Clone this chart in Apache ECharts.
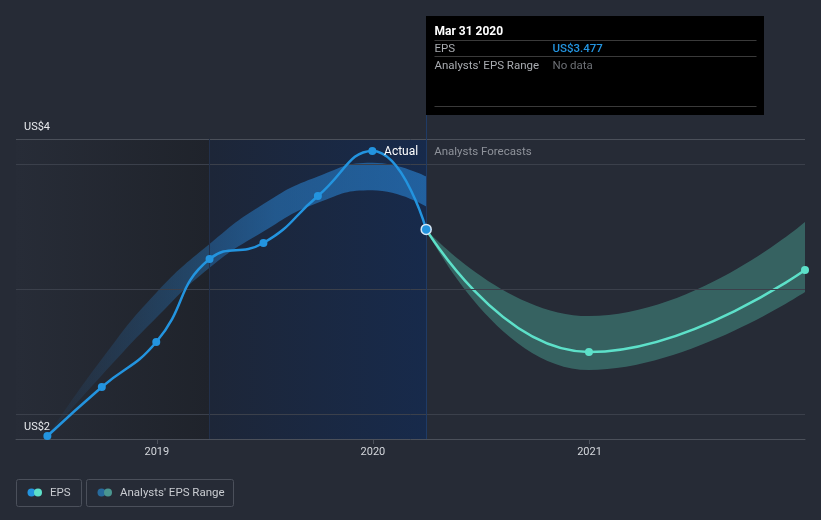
<!DOCTYPE html>
<html><head><meta charset="utf-8">
<script src="https://cdn.jsdelivr.net/npm/echarts@6/dist/echarts.min.js"></script>
<style>html,body{margin:0;padding:0;background:#262b36;}#c{width:821px;height:520px;}</style>
</head><body><div id="c"></div>
<script>
// ---- data ----
const epsDates = ['2018-06-30','2018-09-30','2018-12-31','2019-03-31','2019-06-30','2019-09-30','2019-12-31','2020-03-31'];
const epsValues = [1.824, 2.216, 2.576, 3.24, 3.368, 3.744, 4.104, 3.477];
const pastRangeDates = ['2018-06-30','2018-09-30','2018-12-31','2019-03-31','2019-06-30','2019-09-30','2019-12-31','2020-03-31'];
const pastRangeLow  = [1.824, 2.31, 2.77, 3.17, 3.46, 3.69, 3.79, 3.66];
const pastRangeHigh = [1.824, 2.44, 2.97, 3.36, 3.68, 3.90, 4.01, 3.90];
const fcDates = ['2020-03-31','2020-12-31','2021-12-31'];
const fcValues = [3.477, 2.496, 3.152];
const fcLow  = [3.477, 2.352, 2.976];
const fcHigh = [3.477, 2.784, 3.536];
const gridValues = [2, 3, 4];
const yTickValues = [1.8, 4.2];
const yTickLabels = ['US$2', 'US$4'];
const xTickLabels = ['2019', '2020', '2021'];
const xMin = '2018-05-08', xMax = '2021-12-31';
const yMin = 1.8, yMax = 4.2;
const splitDate = '2019-03-31', nowDate = '2020-03-31';
const tipTitle = 'Mar 31 2020', tipEps = 'US$3.477', tipRange = 'No data';

const FONT = 'Roboto, "Noto Sans", sans-serif';
const FS = '11.5px ';
const chart = echarts.init(document.getElementById('c'), null, {renderer: 'canvas'});
const G = echarts.graphic;

const pair = (ds, vs) => ds.map((d, i) => [d, vs[i]]);
const diff = (ds, lo, hi) => ds.map((d, i) => [d, +(hi[i] - lo[i]).toFixed(4)]);

const epsData = pair(epsDates, epsValues).map((p, i, a) => i === a.length - 1
  ? {value: p, itemStyle: {borderColor: '#d6e8f7', borderWidth: 1.5}, symbolSize: 10} : p);

chart.setOption({
  backgroundColor: '#262b36',
  animation: false,
  grid: {left: 16, right: 16, top: 139, bottom: 81},
  xAxis: {
    type: 'time', min: xMin, max: xMax,
    minInterval: 365 * 86400000, maxInterval: 366 * 86400000,
    axisLine: {lineStyle: {color: '#4b505a', width: 1}},
    axisTick: {show: true, length: 5, lineStyle: {color: '#4b505a'}},
    axisLabel: {color: '#d4d7dc', fontSize: 11, fontFamily: FONT, margin: 8,
      showMinLabel: false, showMaxLabel: false,
      formatter: v => { const y = String(new Date(v).getFullYear()); return xTickLabels.includes(y) ? y : ''; }},
    splitLine: {show: false}
  },
  yAxis: {
    type: 'value', min: yMin, max: yMax,
    axisLine: {show: false}, axisTick: {show: false}, splitLine: {show: false},
    axisLabel: {show: false}
  },
  series: [
    { // shaded background regions
      type: 'line', data: [], z: 1, silent: true,
      markArea: {silent: true, data: [
        [{xAxis: xMin, itemStyle: {color: new G.LinearGradient(0, 0, 1, 0, [{offset: 0, color: '#272c37'}, {offset: 1, color: '#1f232b'}])}}, {xAxis: splitDate}],
        [{xAxis: splitDate, itemStyle: {color: new G.LinearGradient(0, 0, 1, 0, [{offset: 0, color: '#1d2638'}, {offset: 1, color: '#172a4b'}])}}, {xAxis: nowDate}]
      ]}
    },
    { // gridlines
      type: 'line', data: [], z: 2, silent: true,
      markLine: {silent: true, symbol: 'none', label: {show: false},
        data: [
          ...gridValues.map(v => ({yAxis: v, lineStyle: {color: '#3b404b', width: 1, type: 'solid'}})),
          {yAxis: yMax, lineStyle: {color: '#4b505a', width: 1, type: 'solid'}},
          {xAxis: splitDate, lineStyle: {color: '#22304a', width: 1, type: 'solid'}},
          {xAxis: nowDate, lineStyle: {color: '#1f3b66', width: 1, type: 'solid'}}
        ]}
    },
    { name: 'pastLow', type: 'line', stack: 'past', smooth: 0.5, symbol: 'none', z: 3, silent: true,
      lineStyle: {width: 0}, data: pair(pastRangeDates, pastRangeLow) },
    { name: 'pastBand', type: 'line', stack: 'past', smooth: 0.5, symbol: 'none', z: 3, silent: true,
      lineStyle: {width: 0},
      areaStyle: {opacity: 1, color: new G.LinearGradient(0, 0, 1, 0, [
        {offset: 0, color: 'rgba(40,120,195,0.04)'}, {offset: 0.35, color: 'rgba(40,125,200,0.35)'}, {offset: 0.6, color: 'rgba(40,128,205,0.55)'}, {offset: 1, color: 'rgba(40,130,210,0.62)'}])},
      data: diff(pastRangeDates, pastRangeLow, pastRangeHigh) },
    { name: 'fcLow', type: 'line', stack: 'fc', smooth: 0.5, symbol: 'none', z: 3, silent: true,
      lineStyle: {width: 0}, data: pair(fcDates, fcLow) },
    { name: 'fcBand', type: 'line', stack: 'fc', smooth: 0.5, symbol: 'none', z: 3, silent: true,
      lineStyle: {width: 0}, areaStyle: {opacity: 1, color: 'rgba(92,224,200,0.3)'},
      data: diff(fcDates, fcLow, fcHigh) },
    { name: 'Forecast EPS', type: 'line', smooth: 0.5, z: 4, symbol: 'circle', symbolSize: 8,
      showSymbol: true, color: '#5de0c9', lineStyle: {width: 2.5, color: '#5de0c9'},
      itemStyle: {color: '#5de0c9'},
      data: pair(fcDates, fcValues).map((p, i) => i === 0 ? {value: p, symbol: 'none'} : p) },
    { name: 'EPS', type: 'line', smooth: 0.5, z: 5, symbol: 'circle', symbolSize: 8,
      color: '#2394df', lineStyle: {width: 2.5, color: '#2394df'}, itemStyle: {color: '#2394df'},
      data: epsData }
  ]
});

// ---- overlays positioned from the chart's own scales ----
const nowX = chart.convertToPixel({xAxisIndex: 0}, new Date(nowDate).getTime());
const yPx = v => chart.convertToPixel({yAxisIndex: 0}, v);
const topY = yPx(yMax);
const tipL = Math.round(nowX) + 0.5, tipT = 16, tipW = 338, tipH = 99;
const txt = (x, y, s, fill, extra) => ({type: 'text', z: 100, x, y, style: Object.assign({text: s, fill, font: FS + FONT, verticalAlign: 'middle', align: 'left'}, extra || {})});
const hl = (x1, x2, y, c) => ({type: 'line', z: 100, shape: {x1, y1: y + 0.5, x2, y2: y + 0.5}, style: {stroke: c, lineWidth: 1}});

chart.setOption({graphic: [
  {type: 'line', shape: {x1: tipL, y1: tipT + tipH, x2: tipL, y2: topY}, style: {stroke: '#1f3b66', lineWidth: 1}},
  {type: 'rect', z: 99, shape: {x: tipL - 0.5, y: tipT, width: tipW, height: tipH}, style: {fill: '#000000'}},
  txt(tipL + 8, 32, tipTitle, '#ffffff', {font: 'bold 12px ' + FONT}),
  hl(tipL + 8, tipL + tipW - 8, 40, '#3a3a3a'),
  txt(tipL + 8, 49, 'EPS', '#a9acb1'),
  txt(tipL + 126, 49, tipEps, '#2394df', {font: '500 ' + FS + FONT}),
  hl(tipL + 8, tipL + tipW - 8, 56, '#3a3a3a'),
  txt(tipL + 8, 66, "Analysts' EPS Range", '#a9acb1'),
  txt(tipL + 126, 66, tipRange, '#6d7075'),
  hl(tipL + 8, tipL + tipW - 8, 106, '#3a3a3a'),
  txt(nowX - 8, 152, 'Actual', '#ffffff', {align: 'right', font: '12px ' + FONT}),
  txt(nowX + 8, 152, 'Analysts Forecasts', '#8e929a'),
  // y-axis tick labels
  ...yTickValues.map((v, i) => txt(24, yPx(v) - 12, yTickLabels[i], '#e8eaed', {font: '11px ' + FONT})),
  // legend
  {type: 'rect', shape: {x: 16.5, y: 479.5, width: 65, height: 27, r: 2}, style: {fill: 'none', stroke: '#4b505b', lineWidth: 1}},
  {type: 'circle', shape: {cx: 31.5, cy: 492.5, r: 4}, style: {fill: '#2394df'}},
  {type: 'circle', shape: {cx: 38, cy: 492.5, r: 4}, style: {fill: '#5de0c9'}},
  txt(50, 493, 'EPS', '#c9ccd1'),
  {type: 'rect', shape: {x: 86.5, y: 479.5, width: 147, height: 27, r: 2}, style: {fill: 'none', stroke: '#4b505b', lineWidth: 1}},
  {type: 'circle', shape: {cx: 101.5, cy: 492.5, r: 4}, style: {fill: '#276a9c'}},
  {type: 'circle', shape: {cx: 108, cy: 492.5, r: 4}, style: {fill: '#4a9690'}},
  txt(120, 493, "Analysts' EPS Range", '#c9ccd1')
]});
</script></body></html>
